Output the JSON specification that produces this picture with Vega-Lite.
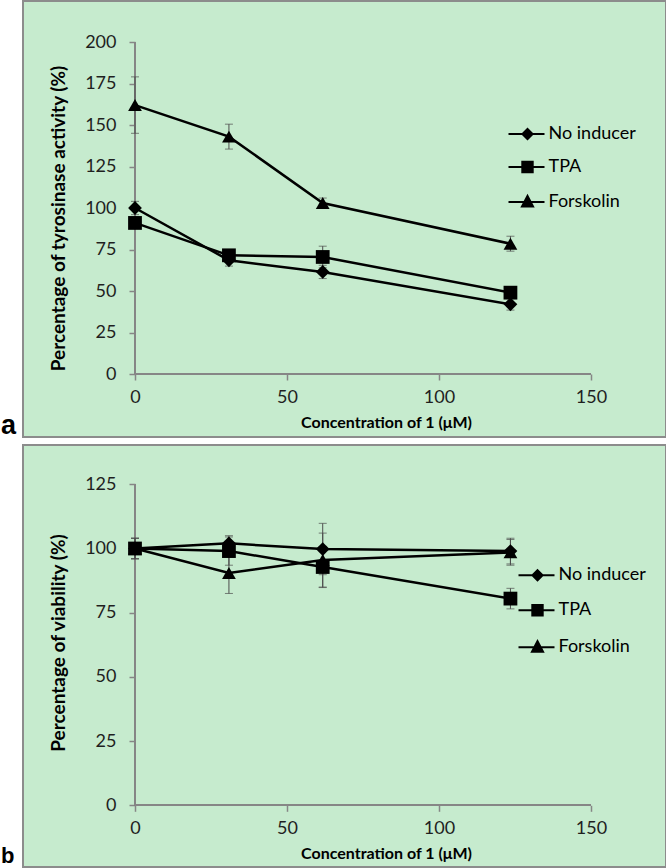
{
  "$schema": "https://vega.github.io/schema/vega-lite/v6.json",
  "background": "white",
  "padding": 0,
  "autosize": {"type": "pad"},
  "bounds": "flush",
  "spacing": 8,
  "resolve": {"scale": {"shape": "independent", "x": "independent", "y": "independent"}, "legend": {"shape": "independent"}},
  "datasets": {
    "tyr": [
      {"conc": 0, "series": "No inducer", "mean": 100, "sd": 4},
      {"conc": 30.9, "series": "No inducer", "mean": 68.5, "sd": 3.5},
      {"conc": 61.75, "series": "No inducer", "mean": 61.5, "sd": 4},
      {"conc": 123.5, "series": "No inducer", "mean": 42, "sd": 3.5},
      {"conc": 0, "series": "TPA", "mean": 91, "sd": 3},
      {"conc": 30.9, "series": "TPA", "mean": 71.5, "sd": 2.5},
      {"conc": 61.75, "series": "TPA", "mean": 70.5, "sd": 6.5},
      {"conc": 123.5, "series": "TPA", "mean": 49, "sd": 3},
      {"conc": 0, "series": "Forskolin", "mean": 162, "sd": 17},
      {"conc": 30.9, "series": "Forskolin", "mean": 143, "sd": 7.5},
      {"conc": 61.75, "series": "Forskolin", "mean": 103, "sd": 3},
      {"conc": 123.5, "series": "Forskolin", "mean": 78.5, "sd": 4.5}
    ],
    "via": [
      {"conc": 0, "series": "No inducer", "mean": 100, "sd": 4},
      {"conc": 30.9, "series": "No inducer", "mean": 102, "sd": 3},
      {"conc": 61.75, "series": "No inducer", "mean": 99.8, "sd": 10},
      {"conc": 123.5, "series": "No inducer", "mean": 99, "sd": 5},
      {"conc": 0, "series": "TPA", "mean": 100, "sd": 4},
      {"conc": 30.9, "series": "TPA", "mean": 99, "sd": 5.5},
      {"conc": 61.75, "series": "TPA", "mean": 92.8, "sd": 8},
      {"conc": 123.5, "series": "TPA", "mean": 80.5, "sd": 4},
      {"conc": 0, "series": "Forskolin", "mean": 100, "sd": 4},
      {"conc": 30.9, "series": "Forskolin", "mean": 90.5, "sd": 8},
      {"conc": 61.75, "series": "Forskolin", "mean": 95.5, "sd": 10.5},
      {"conc": 123.5, "series": "Forskolin", "mean": 98.5, "sd": 5}
    ]
  },
  "config": {
    "view": {"fill": "#c6ebce", "stroke": "#8c8c8c", "strokeWidth": 2},
    "font": "Lato",
    "axis": {
      "grid": false, "domain": false, "tickColor": "#868686", "tickSize": 6, "tickWidth": 1.5,
      "labelFont": "Lato", "labelFontSize": 18, "labelColor": "#1f1f1f",
      "titleFont": "Lato", "titleFontWeight": "bold", "titleColor": "#000"
    },
    "legend": {
      "orient": "none", "padding": 0, "offset": 0, "symbolSize": 400,
      "symbolFillColor": "black", "symbolStrokeColor": "black", "symbolStrokeWidth": 2, "symbolOpacity": 1,
      "labelFont": "Lato", "labelFontSize": 18, "labelColor": "#000", "labelOffset": 10, "title": null
    }
  },
  "vconcat": [
    {
      "width": 643, "height": 436,
      "title": {"text": "a", "orient": "bottom", "anchor": "start", "frame": "group", "dx": -22, "offset": -3, "baseline": "alphabetic", "font": "Liberation Sans", "fontSize": 27, "fontWeight": "bold", "color": "#000"},
      "data": {"name": "tyr"},
      "resolve": {"scale": {"shape": "independent"}, "legend": {"shape": "independent"}},
      "encoding": {
        "x": {"field": "conc", "type": "quantitative", "scale": {"domain": [-36.84, 174.67], "nice": false, "zero": false},
          "axis": {"values": [0, 50, 100, 150], "offset": -63, "labelPadding": 8, "title": "Concentration of 1 (μM)", "titleFontSize": 16, "titleX": 363, "titleY": 53, "titleBaseline": "alphabetic"}},
        "y": {"field": "mean", "type": "quantitative", "scale": {"domain": [-37.95, 224.7], "nice": false, "zero": false},
          "axis": {"values": [0, 25, 50, 75, 100, 125, 150, 175, 200], "offset": -112, "labelPadding": 13, "title": "Percentage of tyrosinase activity (%)", "titleFontSize": 19, "titleX": -77, "titleY": 217, "titleAngle": -90, "titleAlign": "center", "titleBaseline": "middle"}}
      },
      "layer": [
        {"mark": {"type": "rule", "color": "#868686", "strokeWidth": 1.5},
          "encoding": {"x": {"datum": 0, "type": "quantitative"}, "y": {"datum": 0, "type": "quantitative"}, "y2": {"datum": 200}}},
        {"mark": {"type": "rule", "color": "#868686", "strokeWidth": 1.5},
          "encoding": {"y": {"datum": 0, "type": "quantitative"}, "x": {"datum": 0, "type": "quantitative"}, "x2": {"datum": 150}}},
        {"mark": {"type": "errorbar", "ticks": {"size": 8, "thickness": 1}, "color": "#4d4d4d", "thickness": 1},
          "encoding": {"yError": {"field": "sd"}}},
        {"mark": {"type": "line", "color": "black", "strokeWidth": 2.5},
          "encoding": {"detail": {"field": "series"}}},
        {"mark": {"type": "point", "filled": true, "opacity": 1, "color": "black", "size": 190},
          "encoding": {
            "shape": {"field": "series", "scale": {"domain": ["No inducer", "TPA", "Forskolin"], "range": ["diamond", "square", "triangle-up"]}, "legend": null}
          }},
        {"mark": {"type": "point", "filled": true, "opacity": 0, "fill": "black", "stroke": "black", "strokeWidth": 2, "size": 190},
          "encoding": {
            "shape": {"field": "series", "scale": {"domain": ["No inducer", "TPA", "Forskolin"], "range": ["M-1.9,-0.1H1.7V0.1H-1.9ZM0,-0.65L0.65,0L0,0.65L-0.65,0Z", "M-1.9,-0.1H1.7V0.1H-1.9ZM-0.62,-0.62H0.62V0.62H-0.62Z", "M-1.9,-0.1H1.7V0.1H-1.9ZM0,-0.82L0.72,0.55L-0.72,0.55Z"]},
              "legend": {"legendX": 493.5, "legendY": 122, "rowPadding": 11, "symbolSize": 400, "symbolOpacity": 1, "symbolStrokeWidth": 2, "symbolStrokeColor": "black", "symbolFillColor": "black"}}
          }}
      ]
    },
    {
      "width": 643, "height": 422,
      "title": {"text": "b", "orient": "bottom", "anchor": "start", "frame": "group", "dx": -22, "offset": -4, "baseline": "alphabetic", "font": "Liberation Sans", "fontSize": 22, "fontWeight": "bold", "color": "#000"},
      "data": {"name": "via"},
      "resolve": {"scale": {"shape": "independent"}, "legend": {"shape": "independent"}},
      "encoding": {
        "x": {"field": "conc", "type": "quantitative", "scale": {"domain": [-36.84, 174.67], "nice": false, "zero": false},
          "axis": {"values": [0, 50, 100, 150], "offset": -61.7, "labelPadding": 8, "title": "Concentration of 1 (μM)", "titleFontSize": 16, "titleX": 363, "titleY": 53, "titleBaseline": "alphabetic"}},
        "y": {"field": "mean", "type": "quantitative", "scale": {"domain": [-24.0, 140.3], "nice": false, "zero": false},
          "axis": {"values": [0, 25, 50, 75, 100, 125], "offset": -112, "labelPadding": 13, "title": "Percentage of viability (%)", "titleFontSize": 19, "titleX": -77, "titleY": 197.5, "titleAngle": -90, "titleAlign": "center", "titleBaseline": "middle"}}
      },
      "layer": [
        {"mark": {"type": "rule", "color": "#868686", "strokeWidth": 1.5},
          "encoding": {"x": {"datum": 0, "type": "quantitative"}, "y": {"datum": 0, "type": "quantitative"}, "y2": {"datum": 125}}},
        {"mark": {"type": "rule", "color": "#868686", "strokeWidth": 1.5},
          "encoding": {"y": {"datum": 0, "type": "quantitative"}, "x": {"datum": 0, "type": "quantitative"}, "x2": {"datum": 150}}},
        {"mark": {"type": "errorbar", "ticks": {"size": 8, "thickness": 1}, "color": "#4d4d4d", "thickness": 1},
          "encoding": {"yError": {"field": "sd"}}},
        {"mark": {"type": "line", "color": "black", "strokeWidth": 2.5},
          "encoding": {"detail": {"field": "series"}}},
        {"mark": {"type": "point", "filled": true, "opacity": 1, "color": "black", "size": 190},
          "encoding": {
            "shape": {"field": "series", "scale": {"domain": ["No inducer", "TPA", "Forskolin"], "range": ["diamond", "square", "triangle-up"]}, "legend": null}
          }},
        {"mark": {"type": "point", "filled": true, "opacity": 0, "fill": "black", "stroke": "black", "strokeWidth": 2, "size": 190},
          "encoding": {
            "shape": {"field": "series", "scale": {"domain": ["No inducer", "TPA", "Forskolin"], "range": ["M-1.9,-0.1H1.7V0.1H-1.9ZM0,-0.65L0.65,0L0,0.65L-0.65,0Z", "M-1.9,-0.1H1.7V0.1H-1.9ZM-0.62,-0.62H0.62V0.62H-0.62Z", "M-1.9,-0.1H1.7V0.1H-1.9ZM0,-0.82L0.72,0.55L-0.72,0.55Z"]},
              "legend": {"legendX": 503.5, "legendY": 119.3, "rowPadding": 13, "symbolSize": 400, "symbolOpacity": 1, "symbolStrokeWidth": 2, "symbolStrokeColor": "black", "symbolFillColor": "black"}}
          }}
      ]
    }
  ]
}
